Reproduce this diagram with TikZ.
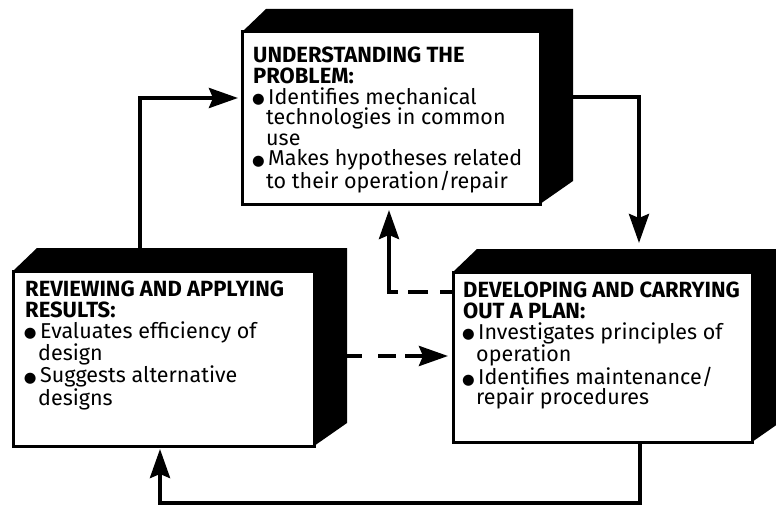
\documentclass[tikz,border=0pt]{standalone}
\usepackage{fontspec}
\setmainfont{Fira Sans}
\newfontfamily\symbolfont{DejaVu Sans}
\usetikzlibrary{arrows.meta}

% layers: white sheet, connectors, solid box depth, box faces
\pgfdeclarelayer{sheet}
\pgfdeclarelayer{links}
\pgfdeclarelayer{depth}
\pgfsetlayers{sheet,links,depth,main}

% large round bullet with hanging indent
\newcommand{\dotitem}{\makebox[15pt][l]{\hspace{-1.2pt}\raisebox{0.3pt}{\symbolfont\fontsize{14.5}{0}\selectfont ●}}}
\newcommand{\contitem}{\hspace*{13pt}}
\newcommand{\headline}[1]{{\bfseries\fontsize{22}{20.6}\selectfont #1}}

% solid black extrusion behind a box face
\newcommand{\solidback}[1]{%
  \fill[black] (#1.north west) -- ([shift={(24,-23)}]#1.north west)
    -- ([shift={(33,-23)}]#1.north east) -- ([shift={(33,-23)}]#1.south east)
    -- (#1.south east) -- cycle;}

\tikzset{
  face/.style={draw=black, fill=white, line width=3pt, anchor=north west,
    inner sep=0pt, outer sep=0pt},
  boxtext/.style={anchor=north west, align=left, inner sep=0pt,
    font=\fontsize{21.5}{20.6}\selectfont},
  link/.style={line width=4pt, -{Stealth[length=29pt,width=20pt,inset=4pt]}},
}

\begin{document}
\begin{tikzpicture}[x=1pt,y=-1pt]
\useasboundingbox (0,0) rectangle (776,508);
\begin{pgfonlayer}{sheet}
  \fill[white] (0,0) rectangle (776,508);
\end{pgfonlayer}

% box faces
\node[face, minimum width=298pt, minimum height=172pt] (up) at (242,32) {};
\node[face, minimum width=301pt, minimum height=175pt] (lb) at (13,271) {};
\node[face, minimum width=299pt, minimum height=170pt] (rb) at (453,272) {};

% box texts
\node[boxtext] (uptext) at (253,47) {\headline{UNDERSTANDING THE}\\\headline{PROBLEM:}\\
  \dotitem Identifies mechanical\\\contitem technologies in common\\\contitem use\\
  \dotitem Makes hypotheses related\\\contitem to their operation/repair};
\node[boxtext] (lbtext) at (25,281) {\headline{REVIEWING AND APPLYING}\\\headline{RESULTS:}\\
  \dotitem Evaluates efficiency of\\\contitem design\\
  \dotitem Suggests alternative\\\contitem designs};
\node[boxtext] (rbtext) at (463,282) {\headline{DEVELOPING AND CARRYING}\\\headline{OUT A PLAN:}\\
  \dotitem Investigates principles of\\\contitem operation\\
  \dotitem Identifies maintenance/\\\contitem repair procedures};

% depth of each box
\begin{pgfonlayer}{depth}
  \solidback{up}
  \solidback{lb}
  \solidback{rb}
\end{pgfonlayer}

% connectors
\begin{pgfonlayer}{links}
  \draw[link, shorten >=4pt] (lb.north -| 140,0) |- (up.west |- 0,98);
  \draw[link, shorten >=29pt] (up.east |- 0,97) -| (rb.north -| 639,0);
  \draw[link, shorten >=6pt, dash pattern=on 13pt off 12pt on 20pt off 10pt on 300pt]
    (rb.west |- 0,292) -| (up.south -| 389,0);
  \draw[link, shorten >=5pt, dash pattern=on 48pt off 16pt on 18pt off 9pt on 200pt]
    (lb.east |- 0,356) -- (rb.west |- 0,356);
  \draw[link, shorten >=3pt] (rb.south -| 640,0) -- ++(0,61) -| (lb.south -| 160,0);
\end{pgfonlayer}
\end{tikzpicture}
\end{document}
